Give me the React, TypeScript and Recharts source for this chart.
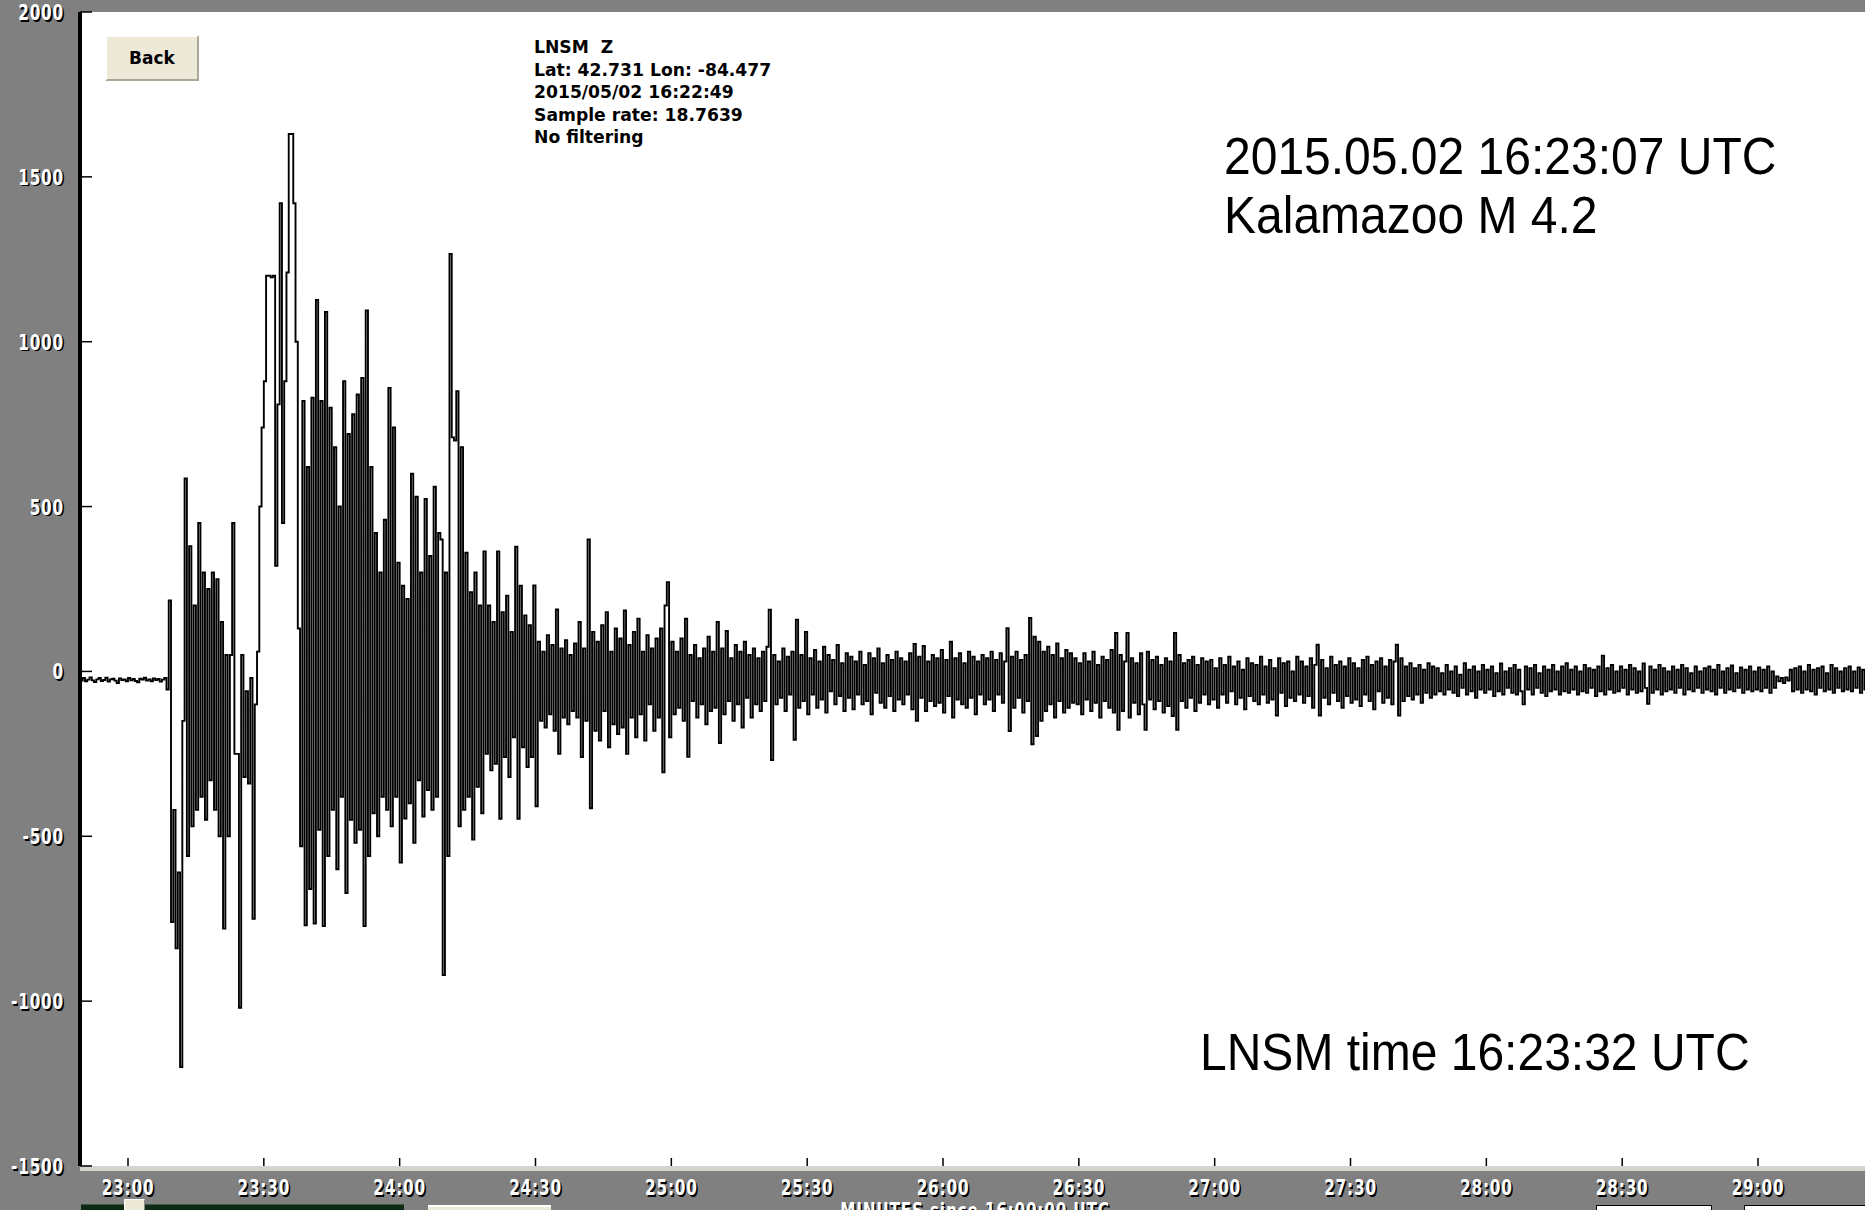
import React from "react"
import { LineChart, Line, XAxis, YAxis } from "recharts"

// first plotted sample, seconds after 16:00:00 UTC, and spacing of the decimated samples
const START_SEC = 1369
const STEP_SEC = 0.5

// LNSM Z counts, one row per 10 s (20 samples a row)
const TRACE_ROWS: number[][] = [
  [-22, -28, -20, -30, -25, -18, -27, -32, -24, -20, -29, -26, -19, -31, -24, -22, -28, -35, -21, -26],
  [-24, -30, -20, -27, -23, -29, -33, -22, -25, -19, -28, -24, -30, -21, -26, -23, -31, -25, -20, -55],
  [215, -760, -420, -840, -610, -1200, -150, 585, -560, 380, -470, 200, -420, 450, -380, 300, -450, 250, -330, 300],
  [-420, 280, -500, 150, -780, 50, -500, 50, 450, -250, -250, -1020, 50, -320, -60, -340, -20, -750, -100, 60],
  [500, 740, 880, 1200, 1200, 1195, 1200, 320, 810, 1420, 450, 880, 1210, 1630, 1630, 1420, 1000, 130, -530, 820],
  [-770, 620, -660, 830, -765, 1127, -480, 820, -772, 1090, -560, 800, -420, 680, -600, 500, -380, 880, -672, 720],
  [-450, 780, -520, 840, -480, 890, -772, 1095, -560, 620, -430, 420, -500, 300, -380, 460, -420, 860, -470, 740],
  [-380, 330, -580, 260, -446, 220, -400, 600, -520, 530, -330, 300, -440, 523, -360, 350, -420, 560, -380, 420],
  [400, -921, 300, -560, 1266, 710, 700, 850, -470, 680, -420, 360, -380, 240, -510, 300, -350, 200, -430, 364],
  [-250, 200, -300, 150, -280, 364, -447, 180, -260, 230, -320, 120, -200, 378, -447, 260, -230, 170, -290, 140],
  [-260, 261, -409, 90, -150, 60, -170, 110, -130, 80, -180, 188, -250, 70, -140, 95, -160, 50, -120, 85],
  [-140, 150, -260, 70, -150, 400, -415, 120, -180, 90, -210, 140, -120, 180, -230, 60, -160, 130, -190, 100],
  [-170, 185, -250, 80, -140, 120, -200, 160, -130, 60, -210, 110, -100, 70, -180, 100, -140, 130, -306, 200],
  [271, -200, 90, -130, 60, -110, 100, -150, 160, -259, 50, -90, 80, -140, 40, -100, 70, -160, 105, -120],
  [60, -110, 150, -217, 70, -130, 123, -90, 40, -150, 80, -100, 60, -170, 90, -80, 50, -140, 70, -100],
  [40, -120, 60, -90, 75, 187, -269, 50, -100, 30, -80, 70, -120, 45, -70, 60, -207, 157, -110, 50],
  [-90, 120, -130, 40, -70, 65, -110, 30, -85, 75, -125, 50, -60, 35, -100, 80, -75, 25, -120, 55],
  [-80, 45, -115, 30, -70, 60, -100, 20, -90, 55, -130, 40, -65, 70, -95, 25, -110, 50, -75, 35],
  [-120, 60, -85, 40, -100, 30, -70, 55, -115, 83, -150, 45, -80, 77, -120, 30, -90, 50, -105, 40],
  [-95, 65, -125, 35, -75, 90, -140, 40, -85, 55, -100, 25, -110, 60, -80, 45, -130, 30, -70, 50],
  [-100, 40, -85, 60, -120, 35, -70, 55, -95, 30, 131, -181, 45, -110, 60, -80, 35, -125, 50, -90],
  [162, -221, 105, -196, 90, -150, 60, -120, 75, -100, 50, -140, 85, -90, 40, -125, 65, -110, 55, -95],
  [40, -100, 25, -130, 55, -85, 30, -120, 60, -95, 20, -140, 45, -90, 35, -110, 65, -125, 117, -177],
  [50, -120, 30, 117, -140, 40, -95, 25, -130, 55, -100, -177, 60, -85, 35, -115, 45, -90, 20, -125],
  [40, -105, 30, -135, 117, -177, 50, -90, 25, -110, 35, -80, 45, -120, 20, -95, 40, -70, 30, -100],
  [35, -85, 10, -110, 40, -70, 20, -95, 45, -60, 15, -100, 30, -80, 5, -115, 40, -75, 25, -90],
  [20, -100, 45, -70, 15, -95, 35, -85, 10, -134, 40, -65, 25, -105, 30, -80, 0, -90, 45, -70],
  [30, -95, 15, -75, 40, -110, 20, 81, -134, 35, -80, 10, -100, 45, -65, 20, -90, 30, -110, 15],
  [-75, 40, -95, 25, -85, 10, -105, 35, -70, 45, -90, 20, -115, 30, -60, 40, -95, 15, -80, 35],
  [-100, 30, 81, -134, 40, -90, 15, -75, 25, -85, 10, -70, 20, -95, 5, -65, 25, -80, 15, -70],
  [10, -60, -5, -70, 20, -55, 0, -65, 15, -75, -10, -50, 25, -70, 5, -60, 15, -80, 0, -55],
  [20, -65, 5, -55, 15, -75, -5, -60, 24, -70, 0, -50, 10, -65, 20, -70, 5, -60, -100, 15],
  [-55, 10, -70, 20, -50, -5, -65, 15, -75, 5, -60, 20, -55, 0, -70, 15, -60, 25, -65, 5],
  [-55, 15, -70, 0, -60, 20, -65, 10, -50, 5, -75, 15, -60, 48, -70, 10, -55, 20, -65, 0],
  [-60, 15, -50, 5, -70, 20, -55, 10, -65, 0, -60, 24, -50, -98, 15, -65, 5, -55, 20, -70],
  [10, -60, 0, -55, 15, -65, 5, -50, 20, -70, 10, -55, -5, -60, 15, -50, 0, -65, 10, -55],
  [15, -60, 5, -70, 20, -50, 0, -65, 10, -55, 18, -60, -5, -50, 12, -65, 5, -55, 15, -60],
  [0, -55, 12, -60, 5, -50, 15, -65, 0, -50, -15, -30, -20, -35, -18, -28, 5, -60, 10, -55],
  [15, -65, 0, -55, 20, -60, 5, -70, 10, -50, 15, -60, -5, -55, 20, -65, 10, -50, 0, -60],
  [10, -55, 15, -60, 0, -50, 12, -65, 5, -55, 10],
]

const TIME_TICKS = [1380, 1410, 1440, 1470, 1500, 1530, 1560, 1590, 1620, 1650, 1680, 1710, 1740]
const COUNT_TICKS = [2000, 1500, 1000, 500, 0, -500, -1000, -1500]

const STATION_LINES = ["LNSM  Z", "Lat: 42.731 Lon: -84.477", "2015/05/02 16:22:49", "Sample rate: 18.7639", "No filtering"]
const EVENT_LINES = ["2015.05.02 16:23:07 UTC", "Kalamazoo M 4.2"]
const ARRIVAL_NOTE = "LNSM time 16:23:32 UTC"
const X_TITLE = "MINUTES since 16:00:00 UTC"

const data = TRACE_ROWS.flat().map((v, i) => ({ t: START_SEC + i * STEP_SEC, v }))

const W = 1865
const H = 1210
const PLOT_LEFT = 80
const PLOT_TOP = 12
const AXIS_H = 44
const X_DOMAIN = [1369.4, 1763.85]
const LABEL_FONT = "'DejaVu Sans Condensed', 'DejaVu Sans', sans-serif"

const mmss = (s: number) => `${Math.floor(s / 60)}:${String(s % 60).padStart(2, "0")}`

// white label with a dark drop shadow, slightly stretched tall like the screen grab
function ShadowLabel({ x, y, text, anchor }: { x: number; y: number; text: string; anchor: "end" | "middle" }) {
  const common = {
    textAnchor: anchor,
    dominantBaseline: "central" as const,
    fontFamily: LABEL_FONT,
    fontWeight: 700,
    fontSize: 17,
    letterSpacing: 0.8,
  }
  return (
    <g transform={`translate(${x}, ${y}) scale(1, 1.2)`}>
      <text x={1.5} y={1.2} fill="#000" {...common}>{text}</text>
      <text x={0} y={0} fill="#fff" {...common}>{text}</text>
    </g>
  )
}

function BottomTick(props: any) {
  const { x, y, payload } = props
  return (
    <g>
      <line x1={x} x2={x} y1={y - 8} y2={y} stroke="#000" strokeWidth={1.5} />
      <ShadowLabel x={x} y={y + 22} text={mmss(payload.value)} anchor="middle" />
    </g>
  )
}

function TopTick(props: any) {
  const { x, y } = props
  return <line x1={x} x2={x} y1={y} y2={y + 11} stroke="#000" strokeWidth={1.5} />
}

function LeftTick(props: any) {
  const { x, y, payload } = props
  return (
    <g>
      <line x1={x} x2={x + 12} y1={y} y2={y} stroke="#000" strokeWidth={1.5} />
      <ShadowLabel x={x - 16} y={y + 1} text={String(payload.value)} anchor="end" />
    </g>
  )
}

export default function App() {
  return (
    <div style={{ position: "absolute", left: 0, top: 0, width: W, height: H, overflow: "hidden", background: "#808080", fontFamily: "'DejaVu Sans', sans-serif" }}>
      {/* white plot face and the light rim under it */}
      <div style={{ position: "absolute", left: PLOT_LEFT, top: PLOT_TOP, width: W - PLOT_LEFT, height: H - AXIS_H - PLOT_TOP, background: "#fff" }} />
      <div style={{ position: "absolute", left: PLOT_LEFT, top: H - AXIS_H, width: W - PLOT_LEFT, height: 5, background: "#d6d3ce" }} />

      <div style={{ position: "absolute", left: 0, top: 0 }}>
        <LineChart width={W + 1} height={H} data={data} margin={{ top: PLOT_TOP, right: 0, bottom: 0, left: 0 }}>
          <XAxis
            dataKey="t"
            type="number"
            domain={X_DOMAIN}
            allowDataOverflow
            ticks={TIME_TICKS}
            interval={0}
            height={AXIS_H}
            axisLine={false}
            tickLine={false}
            tickSize={0}
            tickMargin={0}
            tick={<BottomTick />}
          />
          <XAxis
            xAxisId="top"
            orientation="top"
            dataKey="t"
            type="number"
            domain={X_DOMAIN}
            allowDataOverflow
            ticks={TIME_TICKS}
            interval={0}
            height={0}
            axisLine={{ stroke: "#000", strokeWidth: 4 }}
            tickLine={false}
            tickSize={0}
            tickMargin={0}
            tick={<TopTick />}
          />
          <YAxis
            type="number"
            domain={[-1500, 2000]}
            allowDataOverflow
            ticks={COUNT_TICKS}
            interval={0}
            width={PLOT_LEFT}
            axisLine={{ stroke: "#000", strokeWidth: 4 }}
            tickLine={false}
            tickSize={0}
            tickMargin={0}
            tick={<LeftTick />}
          />
          <Line dataKey="v" type="stepAfter" stroke="#000" strokeWidth={1.9} dot={false} isAnimationActive={false} />
        </LineChart>
      </div>

      {/* Back button */}
      <div style={{ position: "absolute", left: 105, top: 35, width: 94, height: 46, boxSizing: "border-box", background: "#ece9d8", borderTop: "2px solid #fff", borderLeft: "2px solid #fff", borderRight: "2px solid #aca899", borderBottom: "2px solid #aca899", fontWeight: 700, fontSize: 17, display: "flex", alignItems: "center", justifyContent: "center", color: "#000" }}>
        Back
      </div>

      {/* station header */}
      <div style={{ position: "absolute", left: 534, top: 36, fontWeight: 700, fontSize: 17.2, lineHeight: "22.6px", whiteSpace: "pre", color: "#000" }}>
        {STATION_LINES.map((s) => (
          <div key={s}>{s}</div>
        ))}
      </div>

      {/* event notes */}
      <div style={{ position: "absolute", left: 1224, top: 128, fontFamily: "'Liberation Sans', Arial, sans-serif", fontSize: 48, lineHeight: "53.7px", whiteSpace: "pre", color: "#000", transform: "scaleY(1.08)", transformOrigin: "top left" }}>
        {EVENT_LINES.map((s) => (
          <div key={s}>{s}</div>
        ))}
      </div>
      <div style={{ position: "absolute", left: 1200, top: 1024, fontFamily: "'Liberation Sans', Arial, sans-serif", fontSize: 48, lineHeight: "53.7px", whiteSpace: "pre", color: "#000", transform: "scaleY(1.08)", transformOrigin: "top left" }}>
        {ARRIVAL_NOTE}
      </div>

      {/* bits of the window chrome along the bottom edge */}
      <div style={{ position: "absolute", left: 81, top: 1204, width: 323, height: 8, background: "#0e2a14", borderTop: "1px solid #3c5a40" }} />
      <div style={{ position: "absolute", left: 124, top: 1199, width: 21, height: 12, boxSizing: "border-box", background: "#ece9d8", border: "1px solid #fff", borderRightColor: "#888", borderBottomColor: "#888" }} />
      <div style={{ position: "absolute", left: 428, top: 1205, width: 123, height: 8, background: "#ece9d8", borderTop: "2px solid #fff" }} />
      <div style={{ position: "absolute", left: 1596, top: 1205, width: 114, height: 8, background: "#fff", border: "1px solid #000" }} />
      <div style={{ position: "absolute", left: 1744, top: 1205, width: 125, height: 8, background: "#fff", border: "1px solid #000" }} />
      <svg style={{ position: "absolute", left: 0, top: 0 }} width={W} height={H}>
        <ShadowLabel x={975} y={1211} text={X_TITLE} anchor="middle" />
      </svg>
    </div>
  )
}
